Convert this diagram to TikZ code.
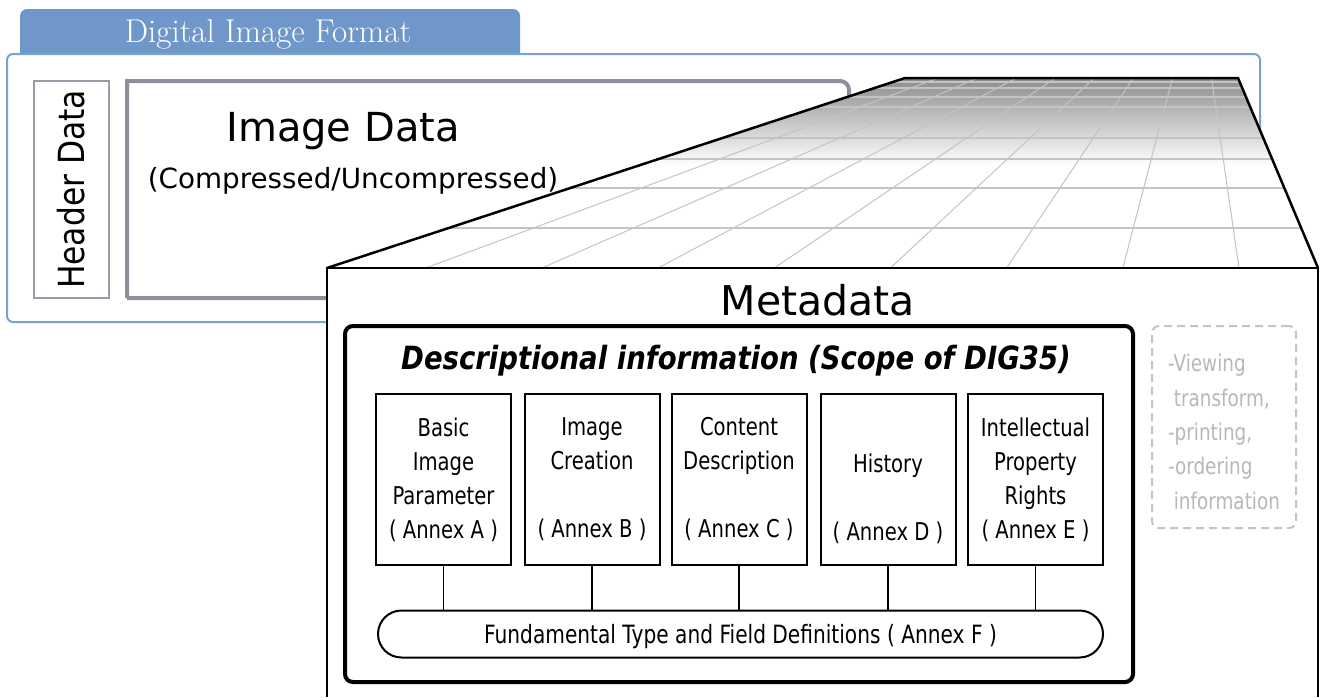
\documentclass[tikz,border=0pt]{standalone}
\usepackage{fontspec}
\newfontfamily\dvs{DejaVu Sans}
\newfontfamily\dvc[FakeStretch=0.8]{DejaVu Sans}
\newfontfamily\dvt[FakeStretch=0.86]{DejaVu Sans}
\definecolor{tabblue}{HTML}{6F97C9}
\definecolor{frameblue}{HTML}{7BA1D2}
\definecolor{boxgray}{HTML}{9A9AA8}
\definecolor{imggray}{HTML}{8E8E9C}
\definecolor{gridgray}{HTML}{C4C4C4}
\definecolor{dashgray}{HTML}{C4C4C4}
\begin{document}
\begin{tikzpicture}[x=1pt,y=-1pt,
  annexbox/.style={draw=black,line width=2pt,fill=white,minimum width=135pt,minimum height=171pt,inner sep=0pt,align=center,
    font=\dvc\fontsize{24.5}{34}\selectfont},
  link/.style={line width=1.6pt}]
\useasboundingbox (0,0) rectangle (1322,697);
% tab
\fill[tabblue] (20,56) {[rounded corners=7pt] -- (20,9) -- (520,9)} -- (520,56) -- cycle;
\node[text=white,font=\fontsize{33}{35}\selectfont] (tab) at (268,34) {Digital Image Format};
% outer frame
\draw[frameblue,line width=2pt,fill=white,rounded corners=6pt] (7,54) rectangle (1260,322);
% header data
\node[draw=boxgray,line width=2pt,minimum width=75pt,minimum height=217pt,inner sep=0pt] (header) at (71.5,189.5)
  {\rotatebox{90}{\dvs\fontsize{36}{38}\selectfont\scalebox{0.87}[1]{Header Data}}};
% image data box
\draw[imggray,line width=4pt] (127,298) -- (127,81) [rounded corners=9pt] -- (849,81) -- (849,298) [sharp corners] -- (127,298);
\node[font=\dvs\fontsize{40}{44}\selectfont] (imgdata) at (343,131) {Image Data};
\node[font=\dvs\fontsize{27.8}{30}\selectfont] (imgsub) at (353,181) {(Compressed/Uncompressed)};
% perspective plane
\coordinate (bl) at (327,268); \coordinate (tl) at (905,78);
\coordinate (tr) at (1238,78); \coordinate (br) at (1318,268);
\fill[white] (bl) -- (tl) -- (tr) -- (br) -- cycle;
\begin{scope}
  \clip (bl) -- (tl) -- (tr) -- (br) -- cycle;
  \shade[top color=black!45,bottom color=white] (320,78) rectangle (1320,165);
  \foreach \yy in {82,88,97,107,122,138,159,188,228}
    \draw[gridgray,line width=1.2pt] (320,\yy) -- (1320,\yy);
  \foreach \k in {-1,...,8}{
    \pgfmathsetmacro{\xb}{1239-116.2*\k}
    \pgfmathsetmacro{\xt}{905+(\xb-327)*0.33602}
    \draw[gridgray,line width=1pt] (\xb,268) -- (\xt,78);
  }
\end{scope}
\draw[line width=2.5pt,line join=miter] (bl) -- (tl) -- (tr) -- (br);
% metadata box
\fill[white] (327,268) rectangle (1318,697);
\draw[line width=2.5pt] (327,697) -- (327,268) -- (1318,268) -- (1318,697);
\node[font=\dvs\fontsize{41}{44}\selectfont] (meta) at (818,300) {Metadata};
% descriptional box
\draw[line width=4pt,rounded corners=8pt] (345,326) rectangle (1133,682);
\node[font=\dvt\bfseries\itshape\fontsize{32}{34}\selectfont] (desc) at (736,361) {Descriptional information (Scope of DIG35)};
% annex boxes
\node[annexbox] (A) at (443.5,479.5) {Basic\\Image\\Parameter\\( Annex A )};
\node[annexbox] (B) at (592,479.5) {Image\\Creation\\\strut\\( Annex B )};
\node[annexbox] (C) at (739,479.5) {Content\\Description\\\strut\\( Annex C )};
\node[annexbox] (D) at (888,479.5) {\strut\\History\\\strut\\( Annex D )};
\node[annexbox] (E) at (1035.5,479.5) {Intellectual\\Property\\Rights\\( Annex E )};
% bar
\node[draw=black,line width=2pt,rounded corners=23.5pt,minimum width=725pt,minimum height=47pt,inner sep=0pt] (bar) at (740.5,634) {};
\node[font=\dvc\fontsize{25.2}{30}\selectfont] (bartext) at ([yshift=-3pt]bar.center) {Fundamental Type and Field Definitions ( Annex F )};
\foreach \n in {A,B,C,D,E} \draw[link] (\n.south) -- (\n.south |- bar.north);
% dashed box
\node[draw=dashgray,line width=2pt,dash pattern=on 8pt off 5pt,rounded corners=7pt,minimum width=144pt,minimum height=202pt,
  inner sep=0pt] (other) at (1224,427) {};
\node[align=left,inner sep=0pt,text=black!28,font=\dvc\fontsize{23}{34.3}\selectfont] (othertext) at ([yshift=-5pt]other.center)
  {-Viewing\\\hspace*{0.25em}transform,\\-printing,\\-ordering\\\hspace*{0.25em}information};
\end{tikzpicture}
\end{document}
